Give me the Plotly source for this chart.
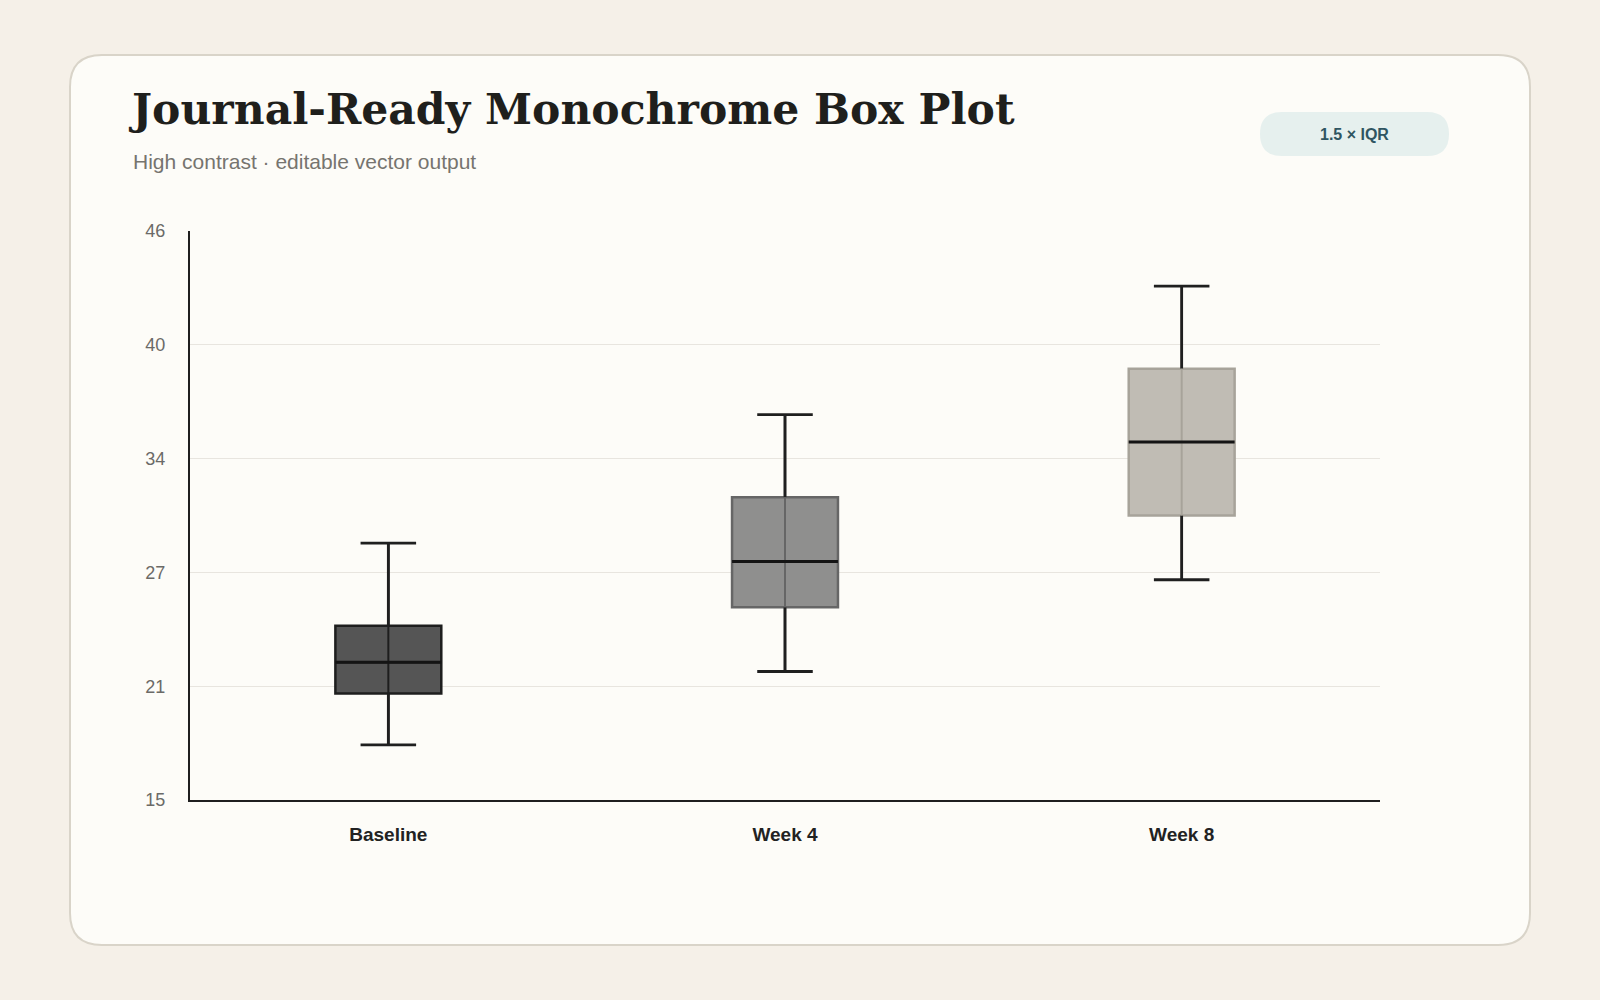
import plotly.graph_objects as go

# Box plot summary values
categories = ["Baseline", "Week 4", "Week 8"]
lower_whisker = [18.0, 22.0, 27.0]
q1 = [20.8, 25.5, 30.5]
median = [22.5, 28.0, 34.5]
q3 = [24.5, 31.5, 38.5]
upper_whisker = [29.0, 36.0, 43.0]

# y axis ticks (nice-rounded labels on an even 6.2 step)
y_tickvals = [15, 21.2, 27.4, 33.6, 39.8, 46]
y_ticktext = ["15", "21", "27", "34", "40", "46"]

fill_colors = ["#555555", "#8f8f8e", "#c0bcb4"]
border_colors = ["#1e1e1e", "#666666", "#a7a39a"]
ink = "#1f1f1f"

W, H = 1600, 1000
L, R, T, B = 190, 220, 231, 200
PW, PH = W - L - R, H - T - B


def px(x):
    return (x - L) / PW


def py(y):
    return (H - B - y) / PH


def rounded_rect(x0, y0, x1, y1, r):
    """Rounded rectangle path in paper coords from pixel corners."""
    pts = [
        f"M {px(x0 + r)},{py(y0)}",
        f"L {px(x1 - r)},{py(y0)}",
        f"Q {px(x1)},{py(y0)} {px(x1)},{py(y0 + r)}",
        f"L {px(x1)},{py(y1 - r)}",
        f"Q {px(x1)},{py(y1)} {px(x1 - r)},{py(y1)}",
        f"L {px(x0 + r)},{py(y1)}",
        f"Q {px(x0)},{py(y1)} {px(x0)},{py(y1 - r)}",
        f"L {px(x0)},{py(y0 + r)}",
        f"Q {px(x0)},{py(y0)} {px(x0 + r)},{py(y0)}",
        "Z",
    ]
    return " ".join(pts)


box_w = 0.267
cap_half = 0.07

fig = go.Figure()

for i, cat in enumerate(categories):
    fig.add_trace(
        go.Box(
            x=[cat],
            q1=[q1[i]],
            median=[median[i]],
            q3=[q3[i]],
            lowerfence=[lower_whisker[i]],
            upperfence=[upper_whisker[i]],
            width=box_w,
            whiskerwidth=0,
            fillcolor=fill_colors[i],
            line=dict(color=border_colors[i], width=2.5),
            boxpoints=False,
            showlegend=False,
            hoverinfo="skip",
        )
    )

# black whiskers outside the boxes
wx, wy = [], []
for i, cat in enumerate(categories):
    wx += [cat, cat, None, cat, cat, None]
    wy += [lower_whisker[i], q1[i], None, q3[i], upper_whisker[i], None]
fig.add_trace(
    go.Scatter(
        x=wx, y=wy, mode="lines", line=dict(color=ink, width=2.8),
        showlegend=False, hoverinfo="skip",
    )
)

shapes = []
# card + badge
shapes.append(dict(
    type="path", xref="paper", yref="paper", layer="below",
    path=rounded_rect(70, 55, 1530, 945, 32),
    fillcolor="#fdfcf8", line=dict(color="#d9d4c9", width=2),
))
shapes.append(dict(
    type="path", xref="paper", yref="paper", layer="above",
    path=rounded_rect(1260, 112, 1449, 156, 22),
    fillcolor="#e6f0ee", line=dict(width=0),
))

for i in range(len(categories)):
    # inner whisker line showing through the box
    shapes.append(dict(
        type="line", xref="x", yref="y", layer="above",
        x0=i, x1=i, y0=q1[i], y1=q3[i],
        line=dict(color=border_colors[i], width=2),
    ))
    # median
    shapes.append(dict(
        type="line", xref="x", yref="y", layer="above",
        x0=i - box_w / 2, x1=i + box_w / 2, y0=median[i], y1=median[i],
        line=dict(color="#141414", width=3),
    ))
    # caps
    for v in (lower_whisker[i], upper_whisker[i]):
        shapes.append(dict(
            type="line", xref="x", yref="y", layer="above",
            x0=i - cap_half, x1=i + cap_half, y0=v, y1=v,
            line=dict(color=ink, width=2.8),
        ))

annotations = [
    dict(
        text="<b>Journal-Ready Monochrome Box Plot</b>",
        xref="paper", yref="paper", x=px(126), y=py(109),
        xanchor="left", yanchor="middle", showarrow=False,
        font=dict(family="DejaVu Serif", size=42.5, color="#1f1f1c"),
    ),
    dict(
        text="High contrast · editable vector output",
        xref="paper", yref="paper", x=px(131), y=py(161),
        xanchor="left", yanchor="middle", showarrow=False,
        font=dict(family="Liberation Sans", size=21, color="#76746f"),
    ),
    dict(
        text="<b>1.5 × IQR</b>",
        xref="paper", yref="paper", x=px(1354.5), y=py(134.5),
        xanchor="center", yanchor="middle", showarrow=False,
        font=dict(family="Liberation Sans", size=16, color="#2f5561"),
    ),
]

fig.update_layout(
    width=W,
    height=H,
    margin=dict(l=L, r=R, t=T, b=B),
    paper_bgcolor="#f5f0e8",
    plot_bgcolor="#fdfcf8",
    shapes=shapes,
    annotations=annotations,
    font=dict(family="Liberation Sans"),
    xaxis=dict(
        type="category",
        categoryorder="array",
        categoryarray=categories,
        range=[-0.5, 2.5],
        showgrid=False,
        showline=True,
        linecolor=ink,
        linewidth=2,
        ticks="",
        ticklabelstandoff=16,
        tickfont=dict(family="Liberation Sans", size=19, color="#222222", weight="bold"),
        zeroline=False,
        fixedrange=True,
    ),
    yaxis=dict(
        range=[15, 46],
        tickvals=y_tickvals,
        ticktext=y_ticktext,
        showgrid=True,
        gridcolor="#e8e5df",
        gridwidth=1,
        showline=True,
        linecolor=ink,
        linewidth=2,
        ticks="",
        ticklabelstandoff=19,
        tickfont=dict(family="Liberation Sans", size=18, color="#6b6a67"),
        zeroline=False,
        fixedrange=True,
    ),
    hovermode=False,
)

fig.write_html(
    "out.html",
    config=dict(displayModeBar=False),
    post_script="document.body.style.margin='0';",
)
